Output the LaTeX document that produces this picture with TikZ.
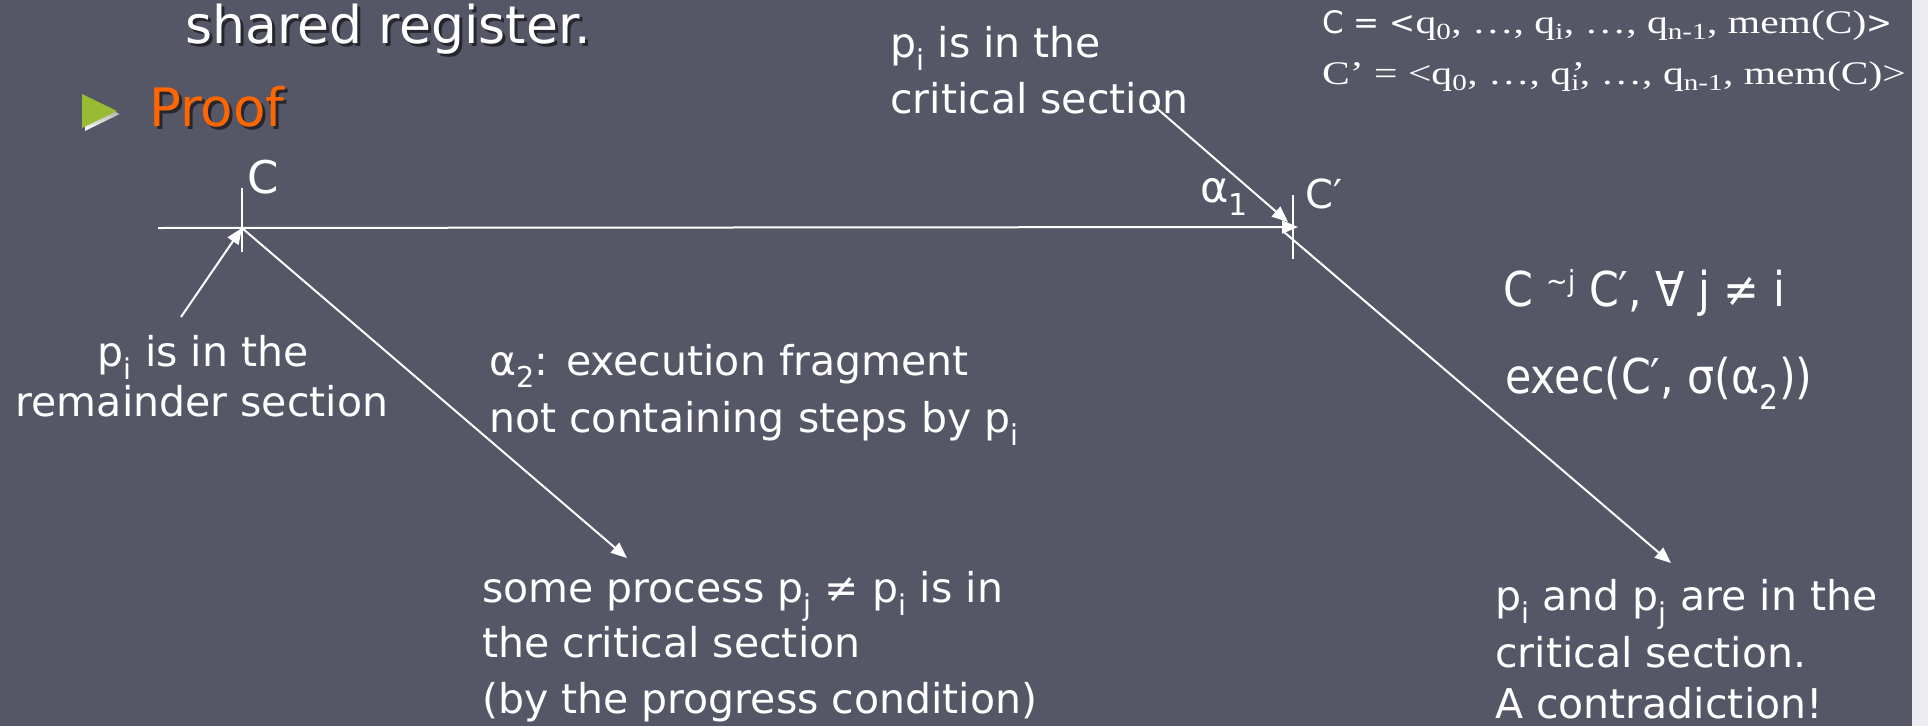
\documentclass[tikz,border=0pt]{standalone}
\usepackage{fontspec}
\setmainfont{DejaVu Sans}
\newfontfamily\tmsfont[FakeStretch=1.26]{Liberation Serif}
\newfontfamily\sansnarrow[FakeStretch=0.89]{DejaVu Sans}
\usetikzlibrary{arrows.meta}

\definecolor{slide}{RGB}{85,87,102}
\definecolor{edgestrip}{RGB}{236,236,240}
\definecolor{proofcol}{RGB}{255,102,0}
\definecolor{bulletcol}{RGB}{153,187,51}
\definecolor{shade}{RGB}{38,38,46}

\newcommand{\bodytxt}{\fontsize{41}{50}\selectfont}
\newcommand{\bigtxt}{\sansnarrow\fontsize{48}{60}\selectfont}

\tikzset{
  txt/.style={text=white, inner sep=0pt, anchor=base west, font=\bodytxt},
  ctxt/.style={txt, anchor=base},
  wire/.style={draw=white, line width=2pt},
  arr/.style={wire, -{Triangle[length=16pt,width=13pt]}},
}

\begin{document}
\begin{tikzpicture}[x=1pt,y=-1pt]
% slide background
\fill[slide] (0,0) rectangle (1928,726);
\fill[edgestrip] (1912,0) rectangle (1928,726);
\useasboundingbox (0,0) rectangle (1928,726);

% heading lines with drop shadows
\node[txt, text=shade, font=\fontsize{52}{60}\selectfont] (titlesh) at (188,46) {shared register.};
\node[txt, font=\fontsize{52}{60}\selectfont] (title) at (185,43) {shared register.};
\fill[shade] (85,97) -- (120,114) -- (85,131) -- cycle;
\fill[bulletcol] (82,94) -- (117,111) -- (82,128) -- cycle;
\node[txt, text=shade, font=\fontsize{53}{60}\selectfont] (proofsh) at (152,129) {Proof};
\node[txt, text=proofcol, font=\fontsize{53}{60}\selectfont] (proof) at (149,126) {Proof};

% configurations on the time line
\coordinate (start) at (158,228);
\coordinate (C) at (242,228);
\coordinate (Cp) at (1298,227);
\coordinate (Ctop) at (242,188);
\coordinate (Cbot) at (242,252);
\coordinate (Cptop) at (1293,195);
\coordinate (Cpbot) at (1293,259);
\draw[arr] (start) -- (Cp);
\draw[wire] (Ctop) -- (Cbot);
\draw[wire] (Cptop) -- (Cpbot);
\node[txt, font=\fontsize{45}{50}\selectfont] (Clab) at (247,193) {C};
\node[txt, font=\fontsize{40}{50}\selectfont] (Cplab) at (1305,208) {C′};
\node[txt, font=\fontsize{43}{50}\selectfont] (alab) at (1200,202) {α\textsubscript{1}};

% state of p_i at C
\node[ctxt] (rem1) at (203,366) {p\textsubscript{i} is in the};
\node[ctxt] (rem2) at (202,416) {remainder section};
\coordinate (remtail) at (181,317);
\draw[arr] (remtail) -- (C);

% state of p_i at C'
\node[txt] (cs1) at (890,57) {p\textsubscript{i} is in the};
\node[txt] (cs2) at (890,113) {critical section};
\coordinate (cstail) at (1153,105);
\coordinate (cstip) at (1288,222);
\draw[arr] (cstail) -- (cstip);

% alpha_2 from C
\node[txt] (a2a) at (489,375) {α\textsubscript{2}: execution fragment};
\node[txt] (a2b) at (489,432) {not containing steps by p\textsubscript{i}};
\coordinate (sptip) at (627,558);
\draw[arr] (C) -- (sptip);
\node[txt] (sp1) at (482,602) {some process p\textsubscript{j} ≠ p\textsubscript{i} is in};
\node[txt] (sp2) at (482,657) {the critical section};
\node[txt] (sp3) at (482,713) {(by the progress condition)};

% same fragment from C'
\coordinate (Cpstart) at (1284,232);
\coordinate (pptip) at (1671,563);
\draw[arr] (Cpstart) -- (pptip);
\node[txt, font=\bigtxt] (eq1) at (1503,306) {C {\fontsize{29}{29}\selectfont\raisebox{15pt}{∼j}} C′, ∀ j ≠ i};
\node[txt, font=\bigtxt] (eq2) at (1505,393) {exec(C′, σ(α\textsubscript{2}))};
\node[txt] (pp1) at (1495,610) {p\textsubscript{i} and p\textsubscript{j} are in the};
\node[txt] (pp2) at (1495,667) {critical section.};
\node[txt] (pp3) at (1495,718) {A contradiction!};

% the two configurations written out
\node[txt, font=\fontsize{31}{32}\selectfont] (conf1) at (1322,33)
  {C = <{\tmsfont\fontsize{33}{34}\selectfont q\textsubscript{0}, …, q\textsubscript{i}, …, q\textsubscript{n-1}, mem(C)}>};
\node[txt, font=\tmsfont\fontsize{33}{34}\selectfont] (conf2) at (1322,84)
  {C’ = <q\textsubscript{0}, …, q\rlap{’}\textsubscript{i}, …, q\textsubscript{n-1}, mem(C)>};
\end{tikzpicture}
\end{document}
